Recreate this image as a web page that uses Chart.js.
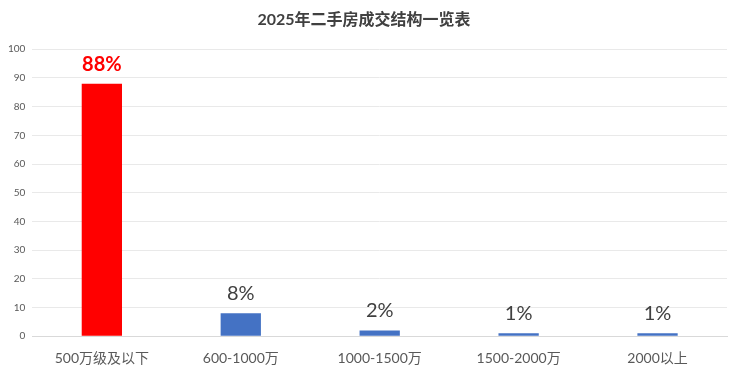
<!DOCTYPE html>
<html>
<head>
<meta charset="utf-8">
<script src="https://cdn.jsdelivr.net/npm/chart.js@4/dist/chart.umd.min.js"></script>
<style>
html,body{margin:0;padding:0;background:#fff;}
#wrap{width:740px;height:374px;}
</style>
</head>
<body>
<div id="wrap"><canvas id="c" width="740" height="374"></canvas></div>
<script>
const categories = ['500万级及以下', '600-1000万', '1000-1500万', '1500-2000万', '2000以上'];
const shares = [88, 8, 2, 1, 1];
const barColors = ['#FF0000', '#4472C4', '#4472C4', '#4472C4', '#4472C4'];
const valueLabels = ['88%', '8%', '2%', '1%', '1%'];
const yTicks = [0, 10, 20, 30, 40, 50, 60, 70, 80, 90, 100];
const titleText = '2025年二手房成交结构一览表';

const FONT = 'Lato, "Noto Sans CJK SC", sans-serif';

const labelPlugin = {
  id: 'valueLabels',
  afterDatasetsDraw(chart) {
    const ctx = chart.ctx;
    const meta = chart.getDatasetMeta(0);
    ctx.save();
    ctx.textAlign = 'center';
    ctx.textBaseline = 'alphabetic';
    meta.data.forEach((bar, i) => {
      if (i === 0) {
        ctx.font = 'bold 20px ' + FONT;
        ctx.fillStyle = '#FF0000';
      } else {
        ctx.font = '20px ' + FONT;
        ctx.fillStyle = '#404040';
      }
      ctx.fillText(valueLabels[i], bar.x, bar.y - 13);
    });
    ctx.restore();
  }
};

new Chart(document.getElementById('c'), {
  type: 'bar',
  data: {
    labels: categories,
    datasets: [{
      data: shares,
      backgroundColor: barColors,
      borderWidth: 0,
      barPercentage: 0.29,
      categoryPercentage: 1.0
    }]
  },
  options: {
    responsive: false,
    animation: false,
    devicePixelRatio: 1,
    layout: { padding: { left: 1, right: 13, top: 0, bottom: 1 } },
    plugins: {
      legend: { display: false },
      tooltip: { enabled: false },
      title: {
        display: true,
        text: titleText,
        color: '#404040',
        font: { family: FONT, size: 16, weight: 'bold' },
        padding: { top: 10, bottom: 20 }
      }
    },
    scales: {
      x: {
        grid: { display: false },
        border: { display: true, color: '#D9D9D9', width: 1 },
        ticks: {
          color: '#595959',
          font: { family: FONT, size: 14 },
          padding: 6,
          maxRotation: 0
        }
      },
      y: {
        min: 0,
        max: 100,
        afterBuildTicks(scale) { scale.ticks = yTicks.map(v => ({ value: v })); },
        grid: { color: '#E9E9E9', drawTicks: false, lineWidth: 1 },
        border: { display: false },
        ticks: {
          color: '#595959',
          font: { family: FONT, size: 10 },
          padding: 7
        }
      }
    }
  },
  plugins: [labelPlugin]
});
</script>
</body>
</html>
